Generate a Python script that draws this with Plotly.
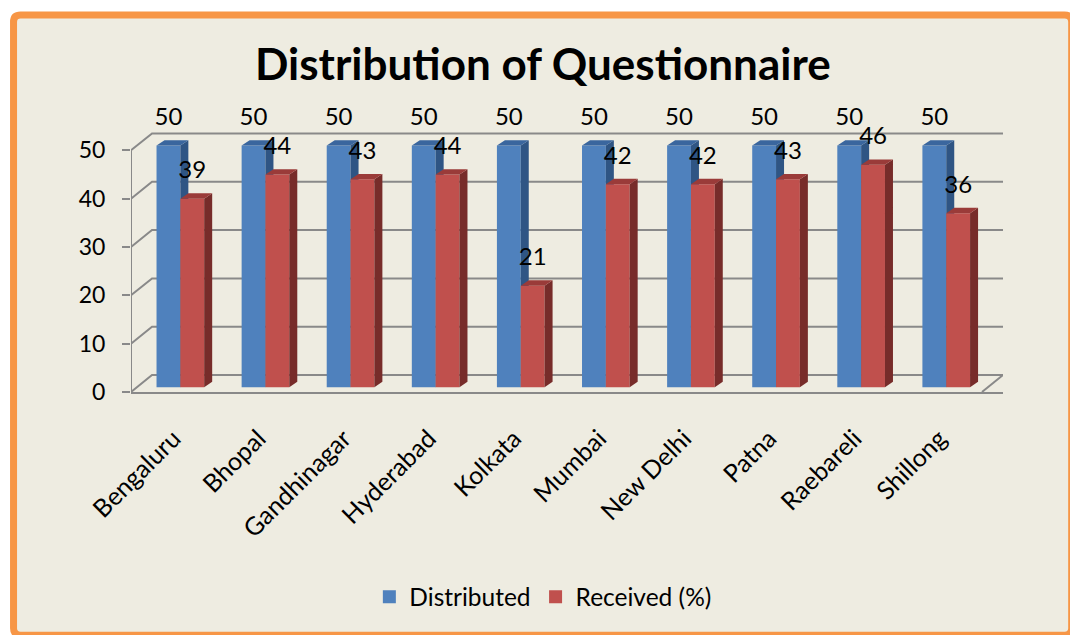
import plotly.graph_objects as go

cities = ['Bengaluru', 'Bhopal', 'Gandhinagar', 'Hyderabad', 'Kolkata',
          'Mumbai', 'New Delhi', 'Patna', 'Raebareli', 'Shillong']
distributed = [50, 50, 50, 50, 50, 50, 50, 50, 50, 50]
received = [39, 44, 43, 44, 21, 42, 42, 43, 46, 36]
y_ticks = [0, 10, 20, 30, 40, 50]

# pseudo-3d geometry (axis units)
WALL_DX, WALL_DY = 0.247, 3.5   # back wall offset
BAR_DX, BAR_DY = 0.094, 1.1     # bar depth
LIFT = 1.0                      # bars sit slightly behind the front plane
BAR_W = 0.28
LABEL_UP = 5.5

# plot area in page pixels
FIG_W, FIG_H = 1070, 635
L, R, T, B = 131, 1003.3, 101.6, 392
W, H = R - L, B - T


def bar_faces(offset, values):
    front, side, top = [], [], []
    for i, v in enumerate(values):
        x0, x1 = i + offset - BAR_W / 2, i + offset + BAR_W / 2
        b, t = LIFT, LIFT + v
        front += [(x0, b), (x1, b), (x1, t), (x0, t), (None, None)]
        side += [(x1, b), (x1 + BAR_DX, b + BAR_DY), (x1 + BAR_DX, t + BAR_DY), (x1, t), (None, None)]
        top += [(x0, t), (x1, t), (x1 + BAR_DX, t + BAR_DY), (x0 + BAR_DX, t + BAR_DY), (None, None)]
    return front, side, top


def poly(pts, color):
    return go.Scatter(x=[p[0] for p in pts], y=[p[1] for p in pts], fill='toself',
                      fillcolor=color, mode='none', showlegend=False, hoverinfo='skip')


fig = go.Figure()

# walls / gridlines
n = len(cities)
grid_x, grid_y = [], []
for v in y_ticks:
    grid_x += [-0.5, -0.5 + WALL_DX, n - 0.5 + WALL_DX, None]
    grid_y += [v, v + WALL_DY, v + WALL_DY, None]
grid_x += [-0.5, -0.5, None, n - 0.5, n - 0.5 + WALL_DX]
grid_y += [0, y_ticks[-1], None, 0, WALL_DY]
fig.add_trace(go.Scatter(x=grid_x, y=grid_y, mode='lines', line=dict(color='#898989', width=2),
                         showlegend=False, hoverinfo='skip'))

series = [
    ('Distributed', distributed, -0.06, '#4F81BD', '#2F5584', '#3A669E'),
    ('Received (%)', received, 0.22, '#C0504D', '#772C2A', '#9A3B39'),
]
for name, vals, off, c_front, c_side, c_top in series:
    front, side, top = bar_faces(off, vals)
    fig.add_trace(poly(front, c_front))
    fig.add_trace(poly(side, c_side))
    fig.add_trace(poly(top, c_top))
    # legend entry only (square swatch)
    fig.add_trace(go.Scatter(x=[None], y=[None], mode='markers', name=name,
                             marker=dict(symbol='square', size=13, color=c_front)))

for name, vals, off, *_ in series:
    fig.add_trace(go.Scatter(x=[i + off for i in range(n)], y=[v + LIFT + LABEL_UP for v in vals],
                             mode='text', text=[str(v) for v in vals],
                             textfont=dict(size=24, color='black', family='Lato'),
                             showlegend=False, hoverinfo='skip'))


def px(x):
    return (x - L) / W


def py(y):
    return (B - y) / H


# background panel with rounded orange border (page pixels), cut at right/bottom edges
x0, y0, x1, y1, r = 13.5, 14.5, 1072, 635.5, 7
path = (f'M {px(x0 + r)},{py(y0)} L {px(x1 - r)},{py(y0)} Q {px(x1)},{py(y0)} {px(x1)},{py(y0 + r)} '
        f'L {px(x1)},{py(y1 - r)} Q {px(x1)},{py(y1)} {px(x1 - r)},{py(y1)} '
        f'L {px(x0 + r)},{py(y1)} Q {px(x0)},{py(y1)} {px(x0)},{py(y1 - r)} '
        f'L {px(x0)},{py(y0 + r)} Q {px(x0)},{py(y0)} {px(x0 + r)},{py(y0)} Z')
fig.add_shape(type='path', path=path, xref='paper', yref='paper', layer='below',
              fillcolor='#EEECE1', line=dict(color='#F79646', width=7))

fig.update_layout(
    width=FIG_W, height=FIG_H, autosize=False,
    margin=dict(l=L, r=FIG_W - R, t=T, b=FIG_H - B, pad=0, autoexpand=False),
    paper_bgcolor='white', plot_bgcolor='rgba(0,0,0,0)',
    font=dict(family='Lato', size=23, color='black'),
    title=dict(text='<b>Distribution of Questionnaire</b>', x=px(543), xanchor='center',
               xref='paper', y=1 - 65 / FIG_H, yanchor='middle',
               font=dict(size=44, family='Lato', color='black')),
    xaxis=dict(range=[-0.5, n - 0.5 + WALL_DX], tickvals=list(range(n)), ticktext=cities,
               tickangle=-45, ticks='', showgrid=False, zeroline=False, showline=True,
               linecolor='#898989', linewidth=2, tickfont=dict(size=25), ticklabelstandoff=20),
    xaxis2=dict(overlaying='x', matches='x', anchor='y', side='bottom',
                tickvals=[i - 0.5 for i in range(n + 1)], showticklabels=False,
                ticks='outside', ticklen=8, tickwidth=2, tickcolor='#898989',
                showgrid=False, zeroline=False),
    yaxis=dict(range=[0, 60], tickvals=y_ticks, ticks='outside', ticklen=8, tickwidth=2,
               tickcolor='#898989', showgrid=False, zeroline=False, showline=False,
               tickfont=dict(size=23), ticklabelstandoff=12),
    legend=dict(orientation='h', x=px(543), xanchor='center', y=py(597), yanchor='middle',
                font=dict(size=24.5), bgcolor='rgba(0,0,0,0)', traceorder='normal',
                itemwidth=30),
    hovermode=False,
)

# drop the default page margin so the figure fills the window exactly
fig.write_html('out.html', config={'displayModeBar': False},
               post_script="document.body.style.margin='0';"
                           "document.body.style.overflow='hidden';")
